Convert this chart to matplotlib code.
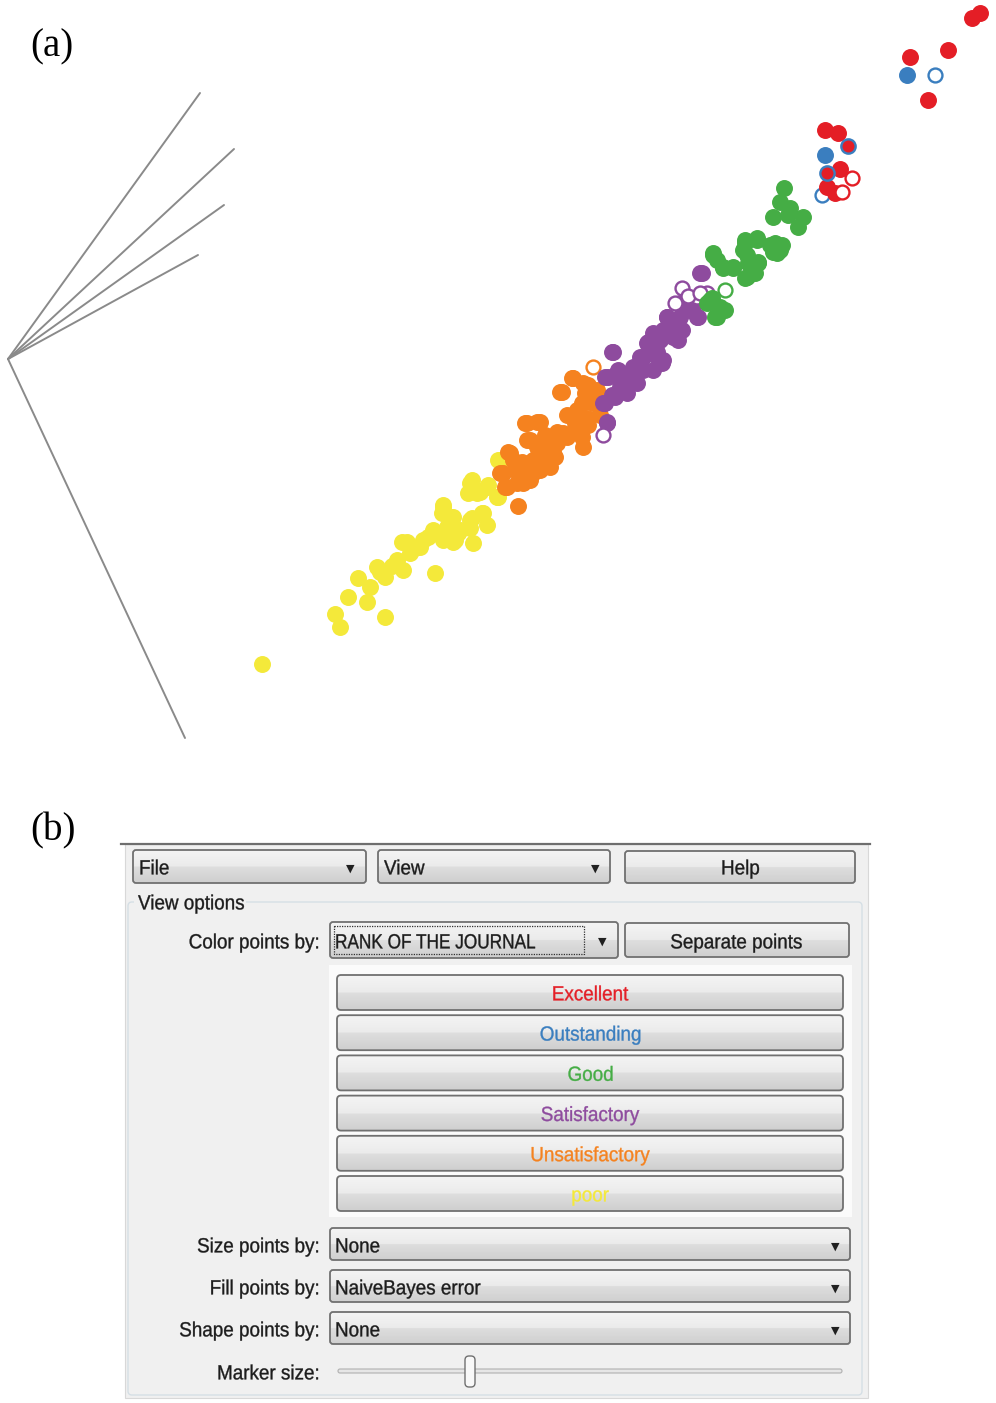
import numpy as np
import matplotlib.pyplot as plt
from matplotlib.colors import to_rgb
from matplotlib.font_manager import FontProperties
from matplotlib.patches import FancyBboxPatch, Rectangle, PathPatch
from matplotlib.textpath import TextPath
from matplotlib.transforms import Affine2D

# ------------------#
# Data (pixel coordinates of the projection view)
# ------------------#

classes = ['Excellent', 'Outstanding', 'Good', 'Satisfactory', 'Unsatisfactory', 'poor']
class_colors = ['#e41e26', '#3a7ebf', '#45ad45', '#8e4b9e', '#f5821f', '#f4e93a']

poor_x = [262, 335, 340, 348, 358, 370, 367, 377, 385, 385, 397, 403, 402, 410, 423, 435, 433, 443,
          450, 455, 460, 470, 473, 483, 487, 470, 477, 487, 497, 500, 442, 428, 415, 392, 380,
          498, 472, 480, 468, 488, 498, 443, 453, 447, 458, 472, 482, 470, 433, 420, 443, 453, 407]
poor_y = [664, 614, 627, 597, 578, 587, 602, 567, 617, 577, 560, 570, 542, 553, 540, 573, 533, 505,
          517, 540, 530, 520, 543, 513, 525, 483, 493, 487, 497, 460, 513, 537, 548, 566, 572,
          460, 480, 492, 493, 485, 497, 507, 517, 527, 533, 518, 513, 528, 530, 547, 540, 542, 542]

unsat_x = [518, 507, 503, 510, 522, 523, 533, 527, 540, 530, 547, 550, 555, 567, 563, 577, 583, 588,
           577, 593, 585, 573, 562, 588, 597, 560, 572, 545, 515, 538, 600,
           583, 592, 582, 575, 587, 582, 567, 557, 557, 553, 548, 537, 525, 527, 537, 533, 540,
           527, 513, 508, 500, 505, 517, 530]
unsat_y = [506, 487, 473, 453, 462, 483, 473, 423, 422, 440, 443, 467, 457, 415, 433, 430, 447, 425,
           410, 403, 393, 378, 392, 385, 390, 392, 378, 435, 470, 455, 415,
           383, 392, 403, 423, 418, 437, 437, 432, 443, 452, 460, 422, 423, 440, 447, 460, 470,
           473, 460, 452, 473, 487, 483, 480]
unsat_open_x = [593]
unsat_open_y = [367]

satis_x = [613, 605, 620, 605, 607, 633, 643, 647, 657, 653, 663, 667, 680, 687, 697, 700, 623, 627,
           637, 653, 663, 673, 680, 693, 612, 618, 640, 650, 660, 675, 690,
           702, 680, 693, 698, 667, 672, 682, 678, 662, 648, 655, 640, 662, 643, 633, 617, 608,
           622, 615, 603, 607, 612, 652, 630]
satis_y = [352, 377, 387, 403, 423, 373, 357, 343, 352, 333, 330, 317, 317, 303, 317, 273, 380, 393,
           383, 370, 360, 337, 330, 307, 395, 370, 365, 345, 340, 325, 310,
           273, 303, 300, 317, 317, 330, 330, 340, 337, 342, 355, 357, 363, 370, 367, 373, 377,
           383, 397, 403, 422, 352, 350, 383]
satis_open_x = [603, 682, 675, 697, 707, 688, 700]
satis_open_y = [435, 288, 303, 297, 293, 296, 293]

good_x = [784, 780, 773, 790, 803, 798, 745, 757, 775, 780, 773, 743, 748, 758, 755, 745, 733, 723,
          717, 713, 712, 720, 717, 707, 788, 770,
          713, 723, 733, 747, 753, 758, 747, 745, 757, 782, 777, 720, 710, 715, 725]
good_y = [188, 202, 217, 208, 217, 227, 240, 240, 243, 250, 252, 250, 263, 263, 273, 278, 267, 268,
          260, 253, 298, 307, 317, 303, 215, 245,
          255, 267, 268, 277, 267, 262, 255, 243, 238, 245, 253, 308, 300, 317, 310]
good_open_x = [725]
good_open_y = [290]

outst_x = [907, 825]
outst_y = [75, 155]
outst_open_x = [935, 822]
outst_open_y = [75, 195]
outst_err_x = [848, 827]   # blue class, red fill
outst_err_y = [146, 173]

excel_x = [980, 972, 948, 910, 928, 825, 838, 840, 827, 835]
excel_y = [13, 18, 50, 57, 100, 130, 133, 169, 187, 193]
excel_open_x = [852, 842]
excel_open_y = [178, 192]

# biplot axes: common origin and end points
axis_origin = (8, 359)
axis_ends_x = [200, 234, 224, 198, 185]
axis_ends_y = [93, 149, 205, 255, 738]

# GUI texts
combo_labels = ['Color points by:', 'Size points by:', 'Fill points by:', 'Shape points by:']
combo_values = ['RANK OF THE JOURNAL', 'None', 'NaiveBayes error', 'None']

GUI_PROP = FontProperties(family='Liberation Sans')


def gui_text(ax, x, y, s, color='#1c1c1c', ha='left', size=20.5, sx=0.92):
    """Condensed label (Tahoma look) drawn as a horizontally squeezed text path"""
    tp = TextPath((0, 0), s, size=size, prop=GUI_PROP)
    w = tp.get_extents().x1 * sx
    if ha == 'center':
        x -= w / 2
    elif ha == 'right':
        x -= w
    tr = Affine2D().scale(sx, -1).translate(x, y + 0.36 * size)
    ax.add_patch(PathPatch(tr.transform_path(tp), fc=color, ec=color, lw=0.25, zorder=5))


def grad_box(ax, x0, y0, x1, y1, edge='#707070', r=3, top=('#f4f4f4', '#ebebeb'),
             bot=('#dedede', '#cfcfcf'), lw=1.3):
    """Windows-7 like button face: rounded rect with a two band gradient"""
    patch = FancyBboxPatch((x0, y0), x1 - x0, y1 - y0,
                           boxstyle=f'round,pad=0,rounding_size={r}',
                           fc='none', ec=edge, lw=lw, zorder=3)
    ax.add_patch(patch)
    n = 40
    c_top = np.linspace(np.array(to_rgb(top[0])), np.array(to_rgb(top[1])), n // 2)
    c_bot = np.linspace(np.array(to_rgb(bot[0])), np.array(to_rgb(bot[1])), n // 2)
    img = np.vstack([c_top, c_bot])[:, None, :]
    im = ax.imshow(img, extent=(x0, x1, y1, y0), origin='upper', aspect='auto',
                   interpolation='bilinear', zorder=2)
    im.set_clip_path(patch)


def arrow(ax, x, y):
    ax.text(x, y, '\u25bc', fontsize=8, ha='center', va='center',
            color='#202020', family=['DejaVu Sans'], zorder=5)


if __name__ == '__main__':

    fig = plt.figure(figsize=(9.96, 14.03), dpi=100)
    ax = fig.add_axes([0, 0, 1, 1])

    # ---------------- panel (a) ----------------
    for ex, ey in zip(axis_ends_x, axis_ends_y):
        ax.plot([axis_origin[0], ex], [axis_origin[1], ey], color='#8a8a8a', lw=1.4,
                solid_capstyle='round', zorder=1)

    s = 125
    groups = [
        (poor_x, poor_y, [], [], class_colors[5]),
        (unsat_x, unsat_y, unsat_open_x, unsat_open_y, class_colors[4]),
        (satis_x, satis_y, satis_open_x, satis_open_y, class_colors[3]),
        (good_x, good_y, good_open_x, good_open_y, class_colors[2]),
        (outst_x, outst_y, outst_open_x, outst_open_y, class_colors[1]),
        (excel_x, excel_y, excel_open_x, excel_open_y, class_colors[0]),
    ]
    z = 2
    for fx, fy, ox, oy, col in groups:
        ax.scatter(fx, fy, s=s, c=col, edgecolors=col, linewidths=1.0, zorder=z)
        if ox:
            ax.scatter(ox, oy, s=s * 0.8, facecolors='white', edgecolors=col,
                       linewidths=1.7, zorder=z + 0.5)
        z += 1
    ax.scatter(outst_err_x, outst_err_y, s=s * 0.85, facecolors=class_colors[0],
               edgecolors=class_colors[1], linewidths=1.7, zorder=z)

    ax.text(30, 47, '(a)', fontsize=28, family='Liberation Serif', va='center', ha='left')
    ax.text(30, 831, '(b)', fontsize=28, family='Liberation Serif', va='center', ha='left')

    # ---------------- panel (b): the GUI ----------------
    ax.add_patch(Rectangle((125, 844), 743, 554, fc='#f0f0f0', ec='#d8d8d8', lw=0.8, zorder=0.5))
    ax.plot([121, 870], [844, 844], color='#6e6e6e', lw=1.6, zorder=1)

    # top row
    grad_box(ax, 133, 850, 366, 883)
    gui_text(ax, 139, 867, 'File')
    arrow(ax, 350, 869)
    grad_box(ax, 378, 850, 610, 883)
    gui_text(ax, 384, 867, 'View')
    arrow(ax, 595, 869)
    grad_box(ax, 625, 851, 855, 883)
    gui_text(ax, 740, 867, 'Help', ha='center')

    # group box
    ax.add_patch(FancyBboxPatch((128, 902), 734, 493, boxstyle='round,pad=0,rounding_size=4',
                                fc='none', ec='#d5dfe5', lw=1.0, zorder=1))
    ax.add_patch(Rectangle((134, 893), 112, 16, fc='#f0f0f0', ec='none', zorder=1.2))
    gui_text(ax, 138, 902, 'View options')

    # combo rows
    row_y = [940, 1244, 1286, 1328]
    for lab, val, yc in zip(combo_labels, combo_values, row_y):
        gui_text(ax, 318, yc + 1, lab, ha='right')
        if lab.startswith('Color'):
            grad_box(ax, 330, yc - 18, 618, yc + 18)
            ax.add_patch(Rectangle((334, yc - 14), 250, 28, fc='none', ec='#303030',
                                   lw=0.9, ls=(0, (1, 1)), zorder=4))
            gui_text(ax, 335, yc + 1, val, sx=0.84)
            arrow(ax, 602, yc + 2)
        else:
            grad_box(ax, 330, yc - 16, 850, yc + 16)
            gui_text(ax, 335, yc + 1, val)
            arrow(ax, 835, yc + 3)

    grad_box(ax, 625, 923, 849, 957)
    gui_text(ax, 736, 941, 'Separate points', ha='center')

    # legend buttons
    ax.add_patch(Rectangle((329, 965), 523, 252, fc='#fbfbfb', ec='none', zorder=1))
    for i, (name, col) in enumerate(zip(classes, class_colors)):
        y0 = 975 + i * 40.2
        grad_box(ax, 337, y0, 843, y0 + 35, r=4)
        gui_text(ax, 590, y0 + 18, name, color=col, ha='center')

    # marker size slider
    gui_text(ax, 318, 1372, 'Marker size:', ha='right')
    ax.add_patch(FancyBboxPatch((338, 1369), 504, 4, boxstyle='round,pad=0,rounding_size=2',
                                fc='#e6e6e6', ec='#b0b0b0', lw=0.8, zorder=3))
    ax.add_patch(FancyBboxPatch((465, 1356), 10, 31, boxstyle='round,pad=0,rounding_size=4',
                                fc='#f8f8f8', ec='#707070', lw=1.0, zorder=4))

    ax.set_xlim(0, 996)
    ax.set_ylim(1403, 0)
    ax.axis('off')
    plt.savefig('out.png', dpi=100)
